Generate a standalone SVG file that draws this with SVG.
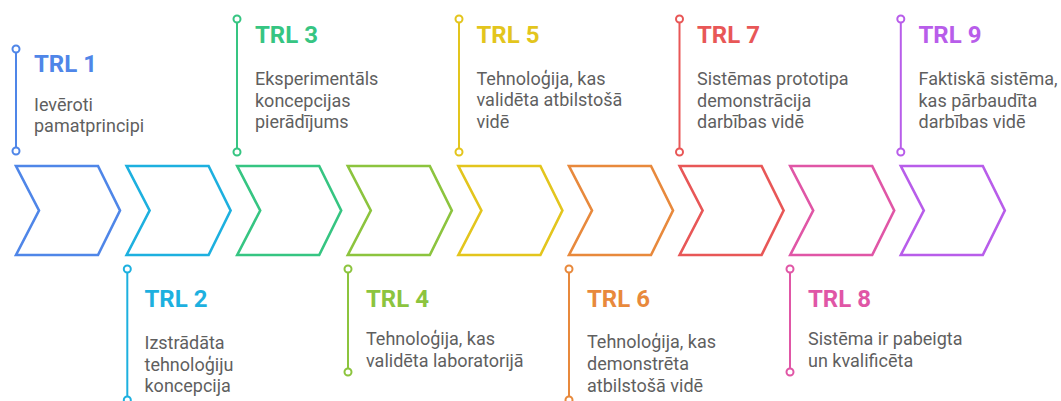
<svg xmlns="http://www.w3.org/2000/svg" width="1061" height="401" viewBox="0 0 1061 401">
<style>
.chev{fill:none;stroke-width:2.6;stroke-linejoin:miter}
.ln{stroke-width:2}
.dot{fill:#fff;stroke-width:2}
.t{font-family:Roboto,"Liberation Sans",sans-serif;font-weight:700;font-size:24px}
.b{font-family:Roboto,"Liberation Sans",sans-serif;font-size:18px;fill:#5f5f5f}
</style>
<defs>
<path id="chev" d="M0,166 H82 L104,210.5 L82,255 H0 L23,210.5 Z"/>
</defs>
<rect width="1061" height="401" fill="#fff"/>
<g id="connectors">
<line class="ln" x1="16" y1="49" x2="16" y2="151" stroke="#4F86E8"/>
<line class="ln" x1="127.3" y1="269" x2="127.3" y2="400" stroke="#1DB0DF"/>
<line class="ln" x1="237" y1="19" x2="237" y2="152" stroke="#36C582"/>
<line class="ln" x1="348" y1="269" x2="348" y2="372" stroke="#8CC43E"/>
<line class="ln" x1="459" y1="19" x2="459" y2="152" stroke="#E3C51D"/>
<line class="ln" x1="569" y1="269" x2="569" y2="400" stroke="#E8893C"/>
<line class="ln" x1="679.5" y1="19" x2="679.5" y2="152" stroke="#E85757"/>
<line class="ln" x1="790" y1="269" x2="790" y2="372" stroke="#E056A6"/>
<line class="ln" x1="900.8" y1="19" x2="900.8" y2="152" stroke="#B85DEA"/>
</g>
<g id="trl1">
<use href="#chev" x="16" class="chev" stroke="#4F86E8"/>
<circle class="dot" cx="16" cy="49" r="3.5" stroke="#4F86E8"/>
<circle class="dot" cx="16" cy="151" r="3.5" stroke="#4F86E8"/>
<text class="t" x="34" y="72.3" fill="#4F86E8">TRL 1</text>
<text class="b" x="34" y="111">Ievēroti</text>
<text class="b" x="34" y="131.7">pamatprincipi</text>
</g>
<g id="trl2">
<use href="#chev" x="126.6" class="chev" stroke="#1DB0DF"/>
<circle class="dot" cx="127.3" cy="269" r="3.5" stroke="#1DB0DF"/>
<circle class="dot" cx="127.3" cy="400" r="3.5" stroke="#1DB0DF"/>
<text class="t" x="144.5" y="307.3" fill="#1DB0DF">TRL 2</text>
<text class="b" x="144.5" y="349">Izstrādāta</text>
<text class="b" x="144.5" y="370.5">tehnoloģiju</text>
<text class="b" x="144.5" y="392">koncepcija</text>
</g>
<g id="trl3">
<use href="#chev" x="237.2" class="chev" stroke="#36C582"/>
<circle class="dot" cx="237" cy="19" r="3.5" stroke="#36C582"/>
<circle class="dot" cx="237" cy="152" r="3.5" stroke="#36C582"/>
<text class="t" x="255" y="43.3" fill="#36C582">TRL 3</text>
<text class="b" x="255" y="85">Eksperimentāls</text>
<text class="b" x="255" y="106.5">koncepcijas</text>
<text class="b" x="255" y="128">pierādījums</text>
</g>
<g id="trl4">
<use href="#chev" x="347.8" class="chev" stroke="#8CC43E"/>
<circle class="dot" cx="348" cy="269" r="3.5" stroke="#8CC43E"/>
<circle class="dot" cx="348" cy="372" r="3.5" stroke="#8CC43E"/>
<text class="t" x="366" y="307.3" fill="#8CC43E">TRL 4</text>
<text class="b" x="366" y="345">Tehnoloģija, kas</text>
<text class="b" x="366" y="367">validēta laboratorijā</text>
</g>
<g id="trl5">
<use href="#chev" x="458.4" class="chev" stroke="#E3C51D"/>
<circle class="dot" cx="459" cy="19" r="3.5" stroke="#E3C51D"/>
<circle class="dot" cx="459" cy="152" r="3.5" stroke="#E3C51D"/>
<text class="t" x="476.5" y="43" fill="#E3C51D">TRL 5</text>
<text class="b" x="476.5" y="84.5">Tehnoloģija, kas</text>
<text class="b" x="476.5" y="106">validēta atbilstošā</text>
<text class="b" x="476.5" y="128">vidē</text>
</g>
<g id="trl6">
<use href="#chev" x="569" class="chev" stroke="#E8893C"/>
<circle class="dot" cx="569" cy="269" r="3.5" stroke="#E8893C"/>
<circle class="dot" cx="569" cy="400" r="3.5" stroke="#E8893C"/>
<text class="t" x="587" y="307.3" fill="#E8893C">TRL 6</text>
<text class="b" x="587" y="348">Tehnoloģija, kas</text>
<text class="b" x="587" y="370">demonstrēta</text>
<text class="b" x="587" y="392">atbilstošā vidē</text>
</g>
<g id="trl7">
<use href="#chev" x="679.6" class="chev" stroke="#E85757"/>
<circle class="dot" cx="679.5" cy="19" r="3.5" stroke="#E85757"/>
<circle class="dot" cx="679.5" cy="152" r="3.5" stroke="#E85757"/>
<text class="t" x="697" y="43.3" fill="#E85757">TRL 7</text>
<text class="b" x="697" y="85">Sistēmas prototipa</text>
<text class="b" x="697" y="106.5">demonstrācija</text>
<text class="b" x="697" y="128">darbības vidē</text>
</g>
<g id="trl8">
<use href="#chev" x="790.2" class="chev" stroke="#E056A6"/>
<circle class="dot" cx="790" cy="269" r="3.5" stroke="#E056A6"/>
<circle class="dot" cx="790" cy="372" r="3.5" stroke="#E056A6"/>
<text class="t" x="808" y="307.3" fill="#E056A6">TRL 8</text>
<text class="b" x="808" y="345">Sistēma ir pabeigta</text>
<text class="b" x="808" y="367">un kvalificēta</text>
</g>
<g id="trl9">
<use href="#chev" x="900.8" class="chev" stroke="#B85DEA"/>
<circle class="dot" cx="900.8" cy="19" r="3.5" stroke="#B85DEA"/>
<circle class="dot" cx="900.8" cy="152" r="3.5" stroke="#B85DEA"/>
<text class="t" x="918.5" y="42.5" fill="#B85DEA">TRL 9</text>
<text class="b" x="918.5" y="85">Faktiskā sistēma,</text>
<text class="b" x="918.5" y="106.5">kas pārbaudīta</text>
<text class="b" x="918.5" y="128">darbības vidē</text>
</g>
</svg>
